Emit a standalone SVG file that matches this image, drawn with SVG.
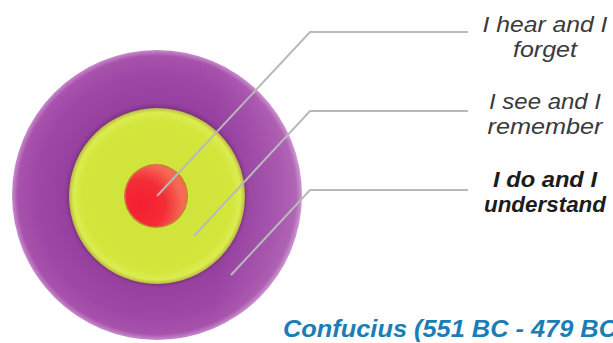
<svg xmlns="http://www.w3.org/2000/svg" width="613" height="343" viewBox="0 0 613 343">
  <defs>
    <radialGradient id="gPurple" cx="157" cy="195" r="145" gradientUnits="userSpaceOnUse">
      <stop offset="0.6" stop-color="#86338e"/>
      <stop offset="0.64" stop-color="#9640a0"/>
      <stop offset="0.85" stop-color="#a048a7"/>
      <stop offset="0.96" stop-color="#a752ac"/>
      <stop offset="1" stop-color="#c88ccb"/>
    </radialGradient>
    <linearGradient id="gSheen" x1="0" y1="0" x2="1" y2="0">
      <stop offset="0" stop-color="#ffffff" stop-opacity="0"/>
      <stop offset="0.7" stop-color="#ffffff" stop-opacity="0"/>
      <stop offset="1" stop-color="#ffffff" stop-opacity="0.12"/>
    </linearGradient>
    <radialGradient id="gYellow" cx="157" cy="196" r="88" gradientUnits="userSpaceOnUse">
      <stop offset="0" stop-color="#cfe23a"/>
      <stop offset="0.85" stop-color="#d2e63c"/>
      <stop offset="0.95" stop-color="#dcec50"/>
      <stop offset="1" stop-color="#b9b848"/>
    </radialGradient>
    <radialGradient id="gRed" cx="140" cy="205" r="50" gradientUnits="userSpaceOnUse">
      <stop offset="0" stop-color="#f41e30"/>
      <stop offset="0.5" stop-color="#f42c36"/>
      <stop offset="0.85" stop-color="#f56a55"/>
      <stop offset="1" stop-color="#ee7050"/>
    </radialGradient>
    <style>
      .lbl { font-family: "Liberation Sans", Arial, sans-serif; font-style: italic; text-anchor: middle; }
      .reg { font-size: 22px; fill: #3a3a3a; }
      .bold { font-size: 21.5px; font-weight: bold; fill: #1c1c1c; }
      .conn { fill: none; stroke: #b9b9b9; stroke-width: 2; }
      .quote { font-family: "Liberation Sans", Arial, sans-serif; font-style: italic; font-weight: bold; font-size: 23px; fill: #1a7db6; }
    </style>
  </defs>

  <g id="target">
    <g id="ring-do">
      <circle cx="157" cy="195" r="145" fill="url(#gPurple)"/>
      <circle cx="157" cy="195" r="145" fill="url(#gSheen)"/>
    </g>
    <g id="ring-see">
      <circle cx="157" cy="196" r="89.5" fill="#7a3a6a" opacity="0.6"/>
      <circle cx="157" cy="196" r="88" fill="url(#gYellow)"/>
    </g>
    <g id="ring-hear">
      <circle cx="156" cy="196" r="32" fill="#c8503a" opacity="0.7"/>
      <circle cx="156" cy="196" r="30.5" fill="url(#gRed)"/>
    </g>
  </g>

  <g id="connectors">
    <polyline class="conn" points="157,196 310,32 468,32"/>
    <polyline class="conn" points="194,236 310,111 468,111"/>
    <polyline class="conn" points="231,275 310,190 468,190"/>
  </g>

  <g id="label-hear">
    <text class="lbl reg" x="545" y="32" textLength="125" lengthAdjust="spacingAndGlyphs">I hear and I</text>
    <text class="lbl reg" x="545" y="57" textLength="64" lengthAdjust="spacingAndGlyphs">forget</text>
  </g>
  <g id="label-see">
    <text class="lbl reg" x="545" y="109" textLength="112" lengthAdjust="spacingAndGlyphs">I see and I</text>
    <text class="lbl reg" x="545" y="134" textLength="115" lengthAdjust="spacingAndGlyphs">remember</text>
  </g>
  <g id="label-do">
    <text class="lbl bold" x="545" y="187" textLength="104" lengthAdjust="spacingAndGlyphs">I do and I</text>
    <text class="lbl bold" x="545" y="212" textLength="122" lengthAdjust="spacingAndGlyphs">understand</text>
  </g>

  <g id="quote">
    <text class="quote" x="283" y="337" textLength="334" lengthAdjust="spacingAndGlyphs">Confucius (551 BC - 479 BC</text>
  </g>
</svg>
